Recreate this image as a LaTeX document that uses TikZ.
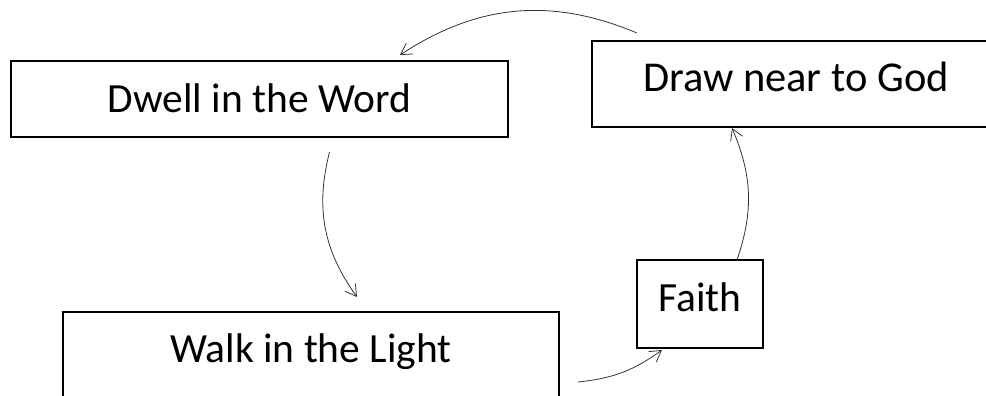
\documentclass[tikz,border=0pt]{standalone}
\usepackage{fontspec}
\setmainfont{Carlito}
\usetikzlibrary{arrows.meta}

\tikzset{box/.style={draw, line width=1.3pt, anchor=north west, inner ysep=0pt, outer sep=0pt, font=\fontsize{41.5}{48}\selectfont}}
\tikzset{link/.style={->, line width=0.8pt, draw=black!80}}

\begin{document}
\begin{tikzpicture}[x=1pt, y=1pt, >={Straight Barb[length=11pt,width=13pt]}]
  \useasboundingbox (0,0) rectangle (986,396);
  % Steps
  \node[box, minimum width=497pt, text height=52pt, text depth=24pt] (Dwell) at (11,335) {Dwell in the Word};
  \node[box, font=\fontsize{42.5}{48}\selectfont, text width=340pt, inner xsep=51pt, align=flush left, text height=51pt, text depth=35pt] (DrawNear) at (592,355) {Draw near to God};
  \node[box, minimum width=496pt, text height=51pt, text depth=60pt] (Walk) at (63,84) {Walk in the Light};
  \node[box, minimum width=126pt, text height=52pt, text depth=36pt] (Faith) at (637,136) {Faith};

  \draw[link] ([shift={(45pt,8pt)}]DrawNear.north west) to[bend right=28] ([shift={(-108pt,6pt)}]Dwell.north east);
  \draw[link] ([shift={(70pt,-15pt)}]Dwell.south) to[bend right=25] ([shift={(46pt,15pt)}]Walk.north);
  \draw[link] ([shift={(19pt,-70pt)}]Walk.north east) to[bend right=15] ([shift={(25pt,-2pt)}]Faith.south west);
  \draw[link] ([shift={(37pt,0pt)}]Faith.north) to[bend right=21] ([shift={(140pt,-1pt)}]DrawNear.south west);
\end{tikzpicture}
\end{document}
